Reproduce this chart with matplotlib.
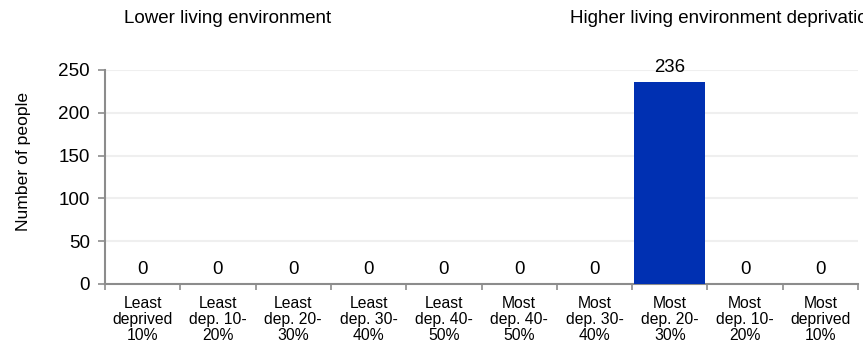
import matplotlib
matplotlib.use("Agg")
import matplotlib.pyplot as plt
import numpy as np

categories = ["Least\ndeprived\n10%", "Least\ndep. 10-\n20%", "Least\ndep. 20-\n30%",
              "Least\ndep. 30-\n40%", "Least\ndep. 40-\n50%", "Most\ndep. 40-\n50%",
              "Most\ndep. 30-\n40%", "Most\ndep. 20-\n30%", "Most\ndep. 10-\n20%",
              "Most\ndeprived\n10%"]
values = [0, 0, 0, 0, 0, 0, 0, 236, 0, 0]
yticks = [0, 50, 100, 150, 200, 250]

plt.rcParams['font.family'] = ['Liberation Sans', 'DejaVu Sans']

fig = plt.figure(figsize=(8.63, 3.49), dpi=100)
ax = fig.add_axes([105/863, 1-284/349, 753/863, (284-70)/349])

x = np.arange(len(categories))
bars = ax.bar(x, values, width=0.94, color='#0030B2', zorder=3)
for xi, v in zip(x, values):
    ax.annotate(str(v), (xi, v), xytext=(0, 4), textcoords='offset points',
                ha='center', va='bottom', fontsize=13.4, color='black')

ax.set_xlim(-0.5, len(categories)-0.5)
ax.set_ylim(0, 250)
ax.set_yticks(yticks)
ax.set_yticklabels([str(t) for t in yticks], fontsize=13.6)
ax.set_xticks(x)
ax.set_xticklabels(categories, fontsize=11.3, linespacing=1.08)
ax.set_xticks(np.arange(len(categories)+1)-0.5, minor=True)
ax.tick_params(axis='x', which='major', length=0, pad=9)
ax.tick_params(axis='x', which='minor', length=4, color='#8c8c8c', width=1.2)
ax.tick_params(axis='y', length=5, color='#8c8c8c', width=1.2, pad=6)

ax.grid(axis='y', color='#efefef', linewidth=1.5, zorder=0)
for s in ['top', 'right']:
    ax.spines[s].set_visible(False)
for s in ['left', 'bottom']:
    ax.spines[s].set_color('#8c8c8c')
    ax.spines[s].set_linewidth(1.5)

ax.set_ylabel("Number of people", fontsize=12.6)
ax.yaxis.set_label_coords(-0.098, 0.575)

fig.text(124/863, 1-18.5/349, "Lower living environment", fontsize=13.5, ha='left', va='center')
fig.text(570/863, 1-18.5/349, "Higher living environment deprivation", fontsize=13.5, ha='left', va='center')

fig.savefig("out.png", dpi=100)
